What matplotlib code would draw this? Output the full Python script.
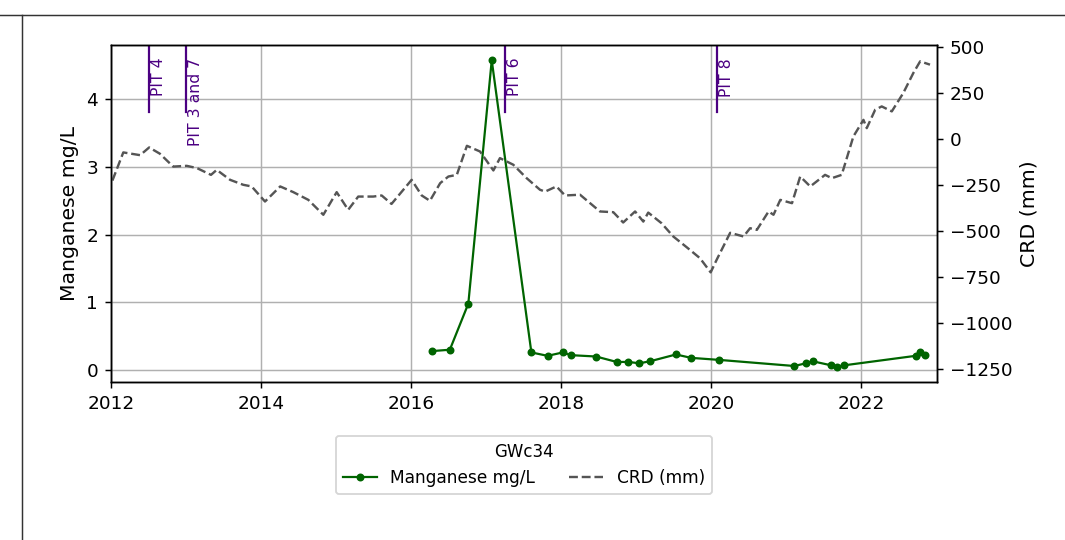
import matplotlib
matplotlib.use("Agg")
import matplotlib.pyplot as plt
import matplotlib.dates as mdates
import matplotlib.transforms as mtransforms
from matplotlib.lines import Line2D
import pandas as pd

# manganese samples (mg/L)
mn_dates = ["2016-04-13", "2016-07-08", "2016-10-06", "2017-01-28", "2017-08-09",
            "2017-10-27", "2018-01-09", "2018-02-17", "2018-06-20", "2018-09-28",
            "2018-11-24", "2019-01-17", "2019-03-10", "2019-07-14", "2019-09-26",
            "2020-02-10", "2021-02-09", "2021-04-07", "2021-05-09", "2021-08-08",
            "2021-09-05", "2021-10-10", "2022-09-23", "2022-10-15", "2022-11-08"]
mn_values = [0.28, 0.30, 0.98, 4.57, 0.26, 0.21, 0.26, 0.22, 0.20, 0.12,
             0.12, 0.10, 0.13, 0.23, 0.18, 0.15, 0.06, 0.10, 0.13, 0.07,
             0.05, 0.07, 0.21, 0.27, 0.22]

# cumulative rainfall departure (mm)
crd_dates = ["2012-01-08", "2012-03-01", "2012-05-22", "2012-07-05", "2012-08-26",
             "2012-10-30", "2013-01-04", "2013-02-22", "2013-05-02", "2013-05-30",
             "2013-08-03", "2013-10-06", "2013-11-16", "2014-01-20", "2014-04-04",
             "2014-06-07", "2014-08-19", "2014-10-31", "2015-01-04", "2015-03-01",
             "2015-04-19", "2015-07-01", "2015-08-11", "2015-09-28", "2016-01-04",
             "2016-02-22", "2016-04-02", "2016-05-22", "2016-07-01", "2016-08-11",
             "2016-09-29", "2016-12-02", "2017-02-05", "2017-03-09", "2017-05-13",
             "2017-07-17", "2017-09-20", "2017-10-15", "2017-12-09", "2018-01-20",
             "2018-04-03", "2018-07-09", "2018-09-12", "2018-10-30", "2018-12-27",
             "2019-02-05", "2019-03-01", "2019-05-05", "2019-07-01", "2019-09-06",
             "2019-11-08", "2019-12-30", "2020-01-28", "2020-04-03", "2020-06-07",
             "2020-07-09", "2020-08-11", "2020-10-07", "2020-10-31", "2020-12-03",
             "2021-01-29", "2021-03-10", "2021-04-28", "2021-07-09", "2021-08-11",
             "2021-09-28", "2021-11-24", "2022-01-12", "2022-01-28", "2022-03-10",
             "2022-04-11", "2022-05-30", "2022-07-25", "2022-09-12", "2022-10-15",
             "2022-12-02"]
crd_values = [-226, -73, -88, -46, -80, -150, -146, -158, -195, -168,
              -222, -249, -258, -340, -258, -289, -331, -412, -289, -385,
              -313, -313, -307, -353, -222, -307, -336, -240, -204, -195,
              -37, -68, -171, -104, -140, -213, -276, -286, -258, -307,
              -303, -394, -398, -454, -394, -449, -400, -458, -530, -590,
              -648, -725, -657, -510, -530, -485, -494, -394, -412, -331,
              -349, -204, -258, -195, -213, -195, 14, 104, 59, 159,
              177, 150, 250, 359, 422, 404]

# pit events
pit_dates = ["2012-07-04", "2013-01-01", "2017-04-02", "2020-01-30"]
pit_labels = ["PIT 4", "PIT 3 and 7", "PIT 6", "PIT 8"]

fig = plt.figure(figsize=(1065 / 133, 540 / 133), dpi=133)
ax = fig.add_axes([0.1042, 0.2926, 0.7756, 0.6241])
ax2 = ax.twinx()

l1, = ax.plot(pd.to_datetime(mn_dates), mn_values, color="darkgreen", marker="o",
              markersize=3.3, linewidth=1.2, label="Manganese mg/L")
l2, = ax2.plot(pd.to_datetime(crd_dates), crd_values, color="#555555", linestyle="--",
               linewidth=1.3, label="CRD (mm)")

text_tr = mtransforms.offset_copy(ax.get_xaxis_transform(), fig=fig, x=1.0, y=0, units="points")
for d, lab in zip(pd.to_datetime(pit_dates), pit_labels):
    ax.axvline(d, ymin=0.8, ymax=1.0, color="indigo", linewidth=1.2)
    ax.text(d, 0.962, lab, rotation=90, ha="left", va="top", color="indigo",
            fontsize=8.5, transform=text_tr)

ax.set_xlim(pd.Timestamp("2012-01-01"), pd.Timestamp("2023-01-05"))
ax.xaxis.set_major_locator(mdates.YearLocator(2))
ax.xaxis.set_major_formatter(mdates.DateFormatter("%Y"))
ax.set_ylabel("Manganese mg/L", fontsize=11)
ax2.set_ylabel("CRD (mm)", fontsize=11)
ax2.set_ylim(-1321, 511)
ax2.set_yticks([500, 250, 0, -250, -500, -750, -1000, -1250])
ax.grid(True)

ax.legend([l1, l2], ["Manganese mg/L", "CRD (mm)"], title="GWc34", ncol=2,
          fontsize=9.2, title_fontsize=9,
          loc="upper center", bbox_to_anchor=(0.5, -0.135))

# frame edges left over from the page
fig.add_artist(Line2D([0, 1], [0.972, 0.972], transform=fig.transFigure, color="#333333", linewidth=0.8))
fig.add_artist(Line2D([0.0207, 0.0207], [0, 0.972], transform=fig.transFigure, color="#333333", linewidth=0.8))

fig.savefig("out.png", dpi=133)
